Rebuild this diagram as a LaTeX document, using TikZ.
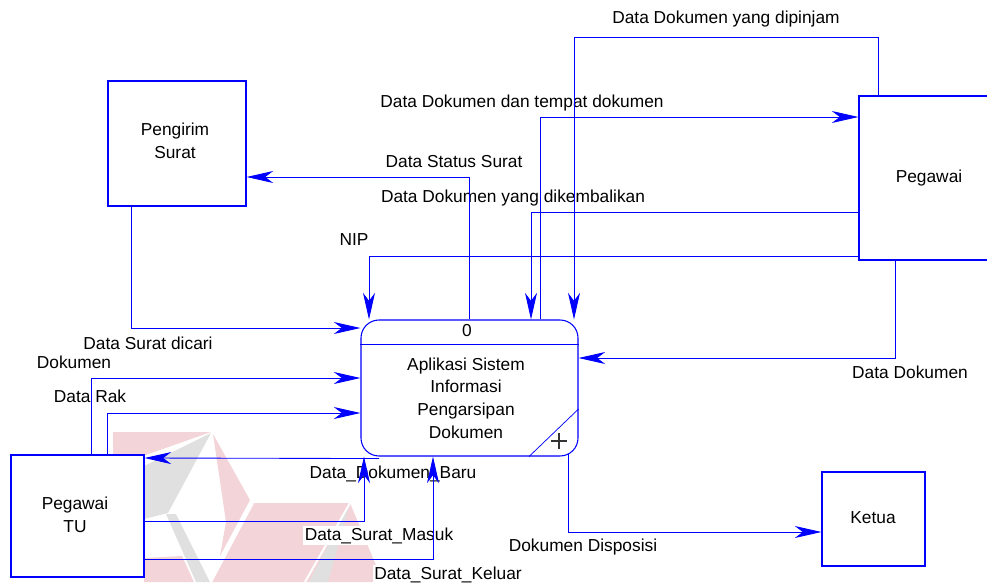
\documentclass[tikz,border=0pt]{standalone}
\usepackage{fontspec}
\setmainfont{Liberation Sans}
\usetikzlibrary{arrows.meta,calc}

\definecolor{flowblue}{RGB}{0,0,255}
\definecolor{markred}{RGB}{243,212,216}
\definecolor{markgrey}{RGB}{224,224,224}

\begin{document}
\begin{tikzpicture}[x=0.75pt,y=-0.75pt,
  every node/.style={font=\fontsize{13}{17}\selectfont},
  flow/.style={draw=flowblue,line width=0.65pt,-{Stealth[length=20pt,width=9pt,inset=6pt]}},
  plain/.style={draw=flowblue,line width=0.65pt},
  entity/.style={draw=flowblue,line width=0.8pt,fill=white,inner sep=0pt},
  procbox/.style={draw=flowblue,line width=0.8pt,fill=white,rounded corners=13.5pt,
    inner sep=0pt,minimum width=162.75pt,minimum height=102pt},
  caption/.style={inner sep=0pt,align=center},
  flowlabel/.style={fill=white,inner sep=1pt,anchor=base}
]
\useasboundingbox (0,0) rectangle (987,582);
\clip (0,0) rectangle (987,582);

% faint logo in the background
\fill[markred] (113,432) -- (211,432) -- (140,457) -- (113,457) -- cycle;
\fill[markgrey] (211,433) -- (140,468) -- (140,520) -- (168,513) -- cycle;
\fill[markred] (213,434) -- (250,500) -- (220,556) -- (226,522) -- cycle;
\fill[markgrey] (166,514) -- (176,514) -- (210,582) -- (196,582) -- cycle;
\fill[markred] (144,558) -- (182,556) -- (194,582) -- (144,582) -- cycle;
\fill[markred] (253,503) -- (350,503) -- (383,582) -- (212,582) -- cycle;
\fill[markgrey] (350,503) -- (328,582) -- (309,582) -- cycle;
\draw[white,line width=1.5pt] (350,503) -- (305,582);
\draw[white,line width=1.5pt] (253,503) -- (211,582);

% flow labels
\node[flowlabel] (ldipinjam) at (726,23) {Data Dokumen yang dipinjam};
\node[flowlabel] (ltempat) at (522,107) {Data Dokumen dan tempat dokumen};
\node[flowlabel] (lstatus) at (454,167) {Data Status Surat};
\node[flowlabel] (lkembali) at (513,202) {Data Dokumen yang dikembalikan};
\node[flowlabel] (lnip) at (354,245) {NIP};
\node[flowlabel] (ldicari) at (148,349) {Data Surat dicari};
\node[flowlabel] (ldokumen) at (74,368) {Dokumen};
\node[flowlabel] (lrak) at (90,402) {Data Rak};
\node[flowlabel] (ldatadok) at (910,378) {Data Dokumen};
\node[flowlabel] (lbaru) at (393,478) {Data\_Dokumen\_Baru};
\node[flowlabel] (lmasuk) at (379,540) {Data\_Surat\_Masuk};
\node[flowlabel] (lkeluar) at (448,579) {Data\_Surat\_Keluar};
\node[flowlabel] (ldisposisi) at (583,551) {Dokumen Disposisi};

% external entities
\node[entity,minimum width=103.5pt,minimum height=93.75pt] (pengirim) at (177,143.5) {};
\node[entity,minimum width=105pt,minimum height=123pt] (pegawai) at (929,178) {};
\node[entity,minimum width=77.25pt,minimum height=70.5pt] (ketua) at (873.5,519) {};
\node[entity,minimum width=99.75pt,minimum height=91.5pt] (tu) at (77.5,516) {};

\node[caption] (pengirimtext) at (175,141) {Pengirim\\Surat};
\node[caption,anchor=base] (pegawaitext) at (929,182) {Pegawai};
\node[caption,anchor=base] (ketuatext) at (873,523) {Ketua};
\node[caption] (tutext) at (75,514.5) {Pegawai\\TU};

% process 0
\node[procbox] (proc) at (469.5,388) {};
\draw[plain] (proc.west |- 0,344) -- (proc.east |- 0,344);
\draw[plain,line width=0.55pt] (529,0 |- proc.south) -- (proc.east |- 0,409);
\draw[black!80,line width=0.8pt] (551,441) -- (567,441) (559,433) -- (559,449);
\node[caption,anchor=base] (procid) at (467,336) {0};
\node[caption] (proctext) at (466,398) {Aplikasi Sistem\\Informasi\\Pengarsipan\\Dokumen};

% data flows with Pegawai
\draw[flow] (878,0 |- pegawai.north) |- (574,37) -- (574,0 |- proc.north);
\draw[flow] (540,0 |- proc.north) |- (pegawai.west |- 0,117);
\draw[flow] (pegawai.west |- 0,212) -| (531,0 |- proc.north);
\draw[flow] (pegawai.west |- 0,256) -| (369,0 |- proc.north);
\draw[flow] (895,0 |- pegawai.south) |- (proc.east |- 0,358);

% data flows with Pengirim Surat
\draw[flow] (469,0 |- proc.north) |- (pengirim.east |- 0,177);
\draw[flow] (131,0 |- pengirim.south) |- (proc.west |- 0,328);

% data flows with Pegawai TU
\draw[flow] (91,0 |- tu.north) |- (proc.west |- 0,378);
\draw[flow] (107,0 |- tu.north) |- (proc.west |- 0,413);
\draw[flow] ($(proc.south)+(-90.5,2)$) -- (tu.east |- 0,458);
\draw[flow] (tu.east |- 0,521) -| (364,0 |- proc.south);
\draw[flow] (tu.east |- 0,559) -| (433,0 |- proc.south);

% data flow to Ketua
\draw[flow] ($(proc.south)+(98.5,-2.5)$) |- (ketua.west |- 0,532);
\end{tikzpicture}
\end{document}
